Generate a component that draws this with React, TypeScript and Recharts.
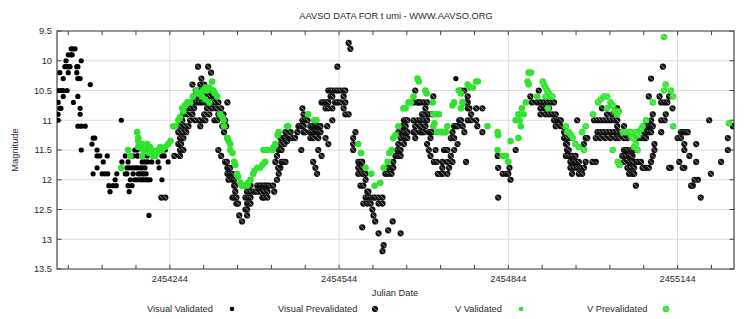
import React from 'react';
import { ScatterChart, Scatter, XAxis, YAxis, CartesianGrid, ReferenceLine, ReferenceArea } from 'recharts';

const FONT = '"Liberation Sans", Arial, Helvetica, sans-serif';
const TEXT = '#2a2a2a';

const title = 'AAVSO DATA FOR t umi - WWW.AAVSO.ORG';
const xLabel = 'Julian Date';
const yLabel = 'Magnitude';
const legendNames = ['Visual Validated', 'Visual Prevalidated', 'V Validated', 'V Prevalidated'];

const xDomain = [2454044, 2455244];
const yDomain = [9.5, 13.5];
const xMajorTicks = [2454244, 2454544, 2454844, 2455144];
const xMinorTicks = [2454064, 2454124, 2454184, 2454244, 2454304, 2454364, 2454424, 2454484, 2454544, 2454604, 2454664, 2454724, 2454784, 2454844, 2454904, 2454964, 2455024, 2455084, 2455144, 2455204];
const yTicks = [9.5, 10, 10.5, 11, 11.5, 12, 12.5, 13, 13.5];

const visualValidated: [number, number][] = [
  [2454046,10.5],[2454051,10.5],[2454055,10.5],[2454062,10.5],[2454046,10.7],[2454049,10.8],[2454051,10.8],[2454046,10.9],[2454046,11.0],
  [2454049,10.2],[2454055,10.3],[2454055,10.6],[2454060,10.0],[2454058,10.1],[2454062,10.1],[2454064,10.1],[2454067,10.1],[2454064,10.2],
  [2454064,9.9],[2454069,9.9],[2454071,9.9],[2454069,9.8],[2454072,9.8],[2454076,9.8],[2454079,10.1],[2454079,10.2],[2454081,10.3],
  [2454085,10.3],[2454087,10.0],[2454081,10.1],[2454081,10.6],[2454085,10.8],[2454085,10.9],[2454073,10.7],[2454081,11.1],[2454087,11.1],
  [2454094,11.1],[2454087,11.5],[2454103,10.4],[2454108,11.3],[2454111,11.3],[2454106,11.4],[2454115,11.5],[2454115,11.6],[2454120,11.6],
  [2454133,11.6],[2454158,11.0],[2454108,11.9],[2454115,11.8],[2454124,11.9],[2454129,11.9],[2454134,11.9],[2454126,11.7],[2454136,12.1],
  [2454143,12.1],[2454149,12.1],[2454138,12.2],[2454147,12.0],[2454150,11.9],[2454158,11.8],[2454159,11.7],[2454165,11.9],[2454168,11.9],
  [2454168,11.8],[2454172,11.8],[2454177,11.8],[2454182,11.8],[2454170,11.7],[2454170,12.1],[2454177,12.1],[2454172,12.2],[2454174,12.0],
  [2454182,12.0],[2454186,12.0],[2454188,11.9],[2454191,11.9],[2454195,11.9],[2454198,11.9],[2454202,11.9],[2454186,11.8],[2454191,11.8],
  [2454195,11.8],[2454200,11.8],[2454191,12.0],[2454195,12.0],[2454198,12.0],[2454202,12.0],[2454205,12.0],[2454209,12.0],[2454195,11.7],
  [2454200,11.7],[2454207,12.6],[2454225,11.8],[2454230,12.0],[2454182,11.5],[2454186,11.6],[2454197,11.6],[2454205,11.7],[2454212,11.7],
  [2454218,11.6],[2454223,11.7],[2454230,11.6],[2454236,11.5],[2454241,11.7],[2454165,11.6],[2454179,11.9],[2454179,11.6],[2454188,11.6],
  [2454204,11.6],[2454214,11.6],[2454234,11.6],[2454186,11.5],[2454200,11.5],[2454225,11.5],[2454751,10.3],
];

const visualPrevalidated: [number, number][] = [
  [2454229,12.3],[2454236,12.3],
  [2454252,11.6],[2454262,11.6],[2454262,11.5],[2454268,11.5],[2454259,11.4],[2454264,11.4],[2454262,11.3],[2454268,11.3],[2454259,11.2],
  [2454266,11.2],[2454273,11.2],[2454262,11.1],[2454270,11.1],[2454277,11.1],[2454266,11.0],[2454280,11.0],[2454268,10.9],[2454275,10.9],
  [2454284,10.9],[2454273,10.8],[2454280,10.8],[2454287,10.8],[2454278,10.7],[2454284,10.7],[2454291,10.7],[2454296,10.7],[2454301,10.7],
  [2454307,10.7],[2454312,10.7],[2454317,10.7],[2454323,10.7],[2454330,10.7],[2454346,10.7],[2454286,10.6],[2454292,10.6],[2454300,10.6],
  [2454307,10.6],[2454314,10.6],[2454321,10.6],[2454326,10.6],[2454290,10.5],[2454296,10.5],[2454303,10.5],[2454312,10.5],[2454319,10.5],
  [2454284,10.4],[2454298,10.4],[2454305,10.4],[2454300,10.3],[2454317,10.2],[2454294,10.1],[2454312,10.1],[2454310,10.8],[2454319,10.8],
  [2454326,10.8],[2454335,10.8],[2454305,10.9],[2454314,10.9],[2454330,10.9],[2454339,10.9],[2454289,11.0],[2454296,11.0],[2454303,11.0],
  [2454307,11.0],[2454323,11.0],[2454328,11.0],[2454342,11.0],[2454298,11.1],[2454337,11.1],[2454344,11.1],[2454340,11.2],[2454346,11.3],
  [2454330,11.5],[2454335,11.6],[2454342,11.7],[2454346,11.8],
  [2454345,11.7],[2454348,11.8],[2454346,11.9],[2454351,11.9],[2454355,11.9],[2454348,12.0],[2454355,12.0],[2454358,12.0],[2454358,12.1],
  [2454360,12.1],[2454360,12.2],[2454355,12.3],[2454358,12.3],[2454362,12.3],[2454362,12.4],[2454365,12.4],[2454367,12.6],[2454372,12.7],
  [2454378,12.5],[2454381,12.5],[2454381,12.4],[2454383,12.4],[2454387,12.4],[2454378,12.3],[2454383,12.3],[2454387,12.3],[2454381,12.2],
  [2454387,12.2],[2454393,12.2],[2454376,12.1],[2454383,12.1],[2454387,12.1],[2454381,12.6],[2454351,11.8],
  [2454399,12.1],[2454403,12.1],[2454406,12.1],[2454410,12.1],[2454413,12.1],[2454417,12.1],[2454420,12.1],[2454427,12.1],[2454403,12.2],
  [2454411,12.2],[2454417,12.2],[2454429,12.2],[2454408,12.3],[2454411,12.3],[2454417,12.3],[2454397,12.2],
  [2454434,12.0],[2454437,11.9],[2454440,11.8],[2454442,11.7],[2454445,11.7],[2454434,11.6],[2454437,11.5],[2454440,11.4],[2454442,11.5],
  [2454445,11.3],[2454447,11.4],[2454449,11.2],[2454452,11.3],[2454440,11.3],[2454431,11.7],[2454436,11.8],
  [2454449,11.3],[2454452,11.35],[2454449,11.7],[2454458,11.2],[2454461,11.3],[2454466,11.3],[2454470,11.2],[2454472,11.1],[2454475,11.1],
  [2454479,11.1],[2454481,11.1],[2454481,11.2],[2454484,11.2],[2454479,11.0],[2454481,10.9],[2454479,10.8],[2454484,11.0],[2454488,11.0],
  [2454493,11.1],[2454497,11.1],[2454502,11.1],[2454505,11.1],[2454507,11.1],[2454511,11.1],[2454493,11.2],[2454497,11.2],[2454502,11.2],
  [2454505,11.2],[2454507,11.2],[2454511,11.2],[2454493,11.3],[2454498,11.3],[2454507,11.3],[2454477,11.5],[2454498,11.7],[2454502,11.8],
  [2454505,11.9],[2454507,11.5],[2454513,11.6],[2454520,11.3],[2454523,11.1],[2454525,11.4],[2454532,11.0],
  [2454513,10.7],[2454516,10.7],[2454520,10.7],[2454523,10.7],[2454525,10.7],[2454537,10.7],[2454541,10.7],[2454546,10.7],[2454529,10.6],
  [2454532,10.6],[2454525,10.5],[2454529,10.5],[2454532,10.5],[2454537,10.5],[2454541,10.5],[2454546,10.5],[2454552,10.5],[2454555,10.5],
  [2454552,10.6],[2454555,10.7],[2454520,10.8],[2454525,10.8],[2454532,10.8],[2454552,10.8],[2454555,10.9],[2454561,10.9],[2454541,10.1],
  [2454561,9.7],[2454564,9.8],
  [2454573,11.2],[2454569,11.3],[2454569,11.4],[2454569,11.5],[2454578,11.7],[2454582,11.7],[2454585,11.7],[2454578,11.8],[2454585,11.8],
  [2454578,11.9],[2454585,11.9],[2454591,11.9],[2454591,12.0],[2454582,12.1],[2454587,12.1],[2454594,12.2],[2454596,12.2],[2454591,12.3],
  [2454596,12.3],[2454600,12.3],[2454605,12.3],[2454608,12.3],[2454614,12.3],[2454621,12.3],[2454587,12.4],[2454594,12.4],[2454600,12.4],
  [2454614,12.4],[2454621,12.4],[2454603,12.5],[2454605,12.6],[2454608,12.7],[2454585,12.8],[2454614,12.9],[2454623,13.1],[2454621,13.2],
  [2454631,12.85],[2454639,12.7],[2454653,12.9],
  [2454626,11.9],[2454631,11.9],[2454637,11.9],[2454631,11.8],[2454637,11.8],[2454640,11.8],[2454640,11.7],[2454644,11.6],[2454649,11.6],
  [2454647,11.5],[2454653,11.5],[2454649,11.4],[2454653,11.3],[2454649,11.2],[2454656,11.2],[2454656,11.1],
  [2454653,11.6],[2454659,11.0],[2454662,11.0],[2454665,11.0],[2454662,11.1],[2454659,11.2],[2454665,11.2],[2454659,11.3],[2454662,11.3],
  [2454665,11.3],[2454659,11.4],[2454676,11.0],[2454683,11.0],[2454688,11.0],[2454694,11.0],[2454700,11.0],[2454679,11.1],[2454688,11.1],
  [2454697,11.1],[2454676,10.7],[2454679,10.5],[2454683,10.7],[2454685,10.7],[2454688,10.7],[2454694,10.7],[2454700,10.7],[2454711,10.6],
  [2454697,10.8],[2454700,10.9],[2454691,10.9],[2454694,10.9],[2454703,10.9],[2454709,10.9],[2454676,11.2],[2454679,11.2],[2454688,11.2],
  [2454691,11.2],[2454694,11.2],[2454703,11.2],[2454706,11.2],[2454709,11.2],[2454679,11.3],[2454706,11.3],[2454742,11.3],[2454748,11.3],
  [2454700,11.4],[2454703,11.5],[2454706,11.6],[2454712,11.7],[2454715,11.5],[2454730,11.5],[2454733,11.5],[2454736,11.5],[2454724,11.9],
  [2454736,11.7],[2454739,11.8],[2454736,11.9],[2454742,11.6],[2454748,11.5],[2454754,11.4],[2454745,11.2],[2454748,11.1],[2454751,11.1],
  [2454754,11.1],[2454757,11.0],[2454760,11.0],[2454763,11.1],[2454766,11.2],[2454772,10.7],[2454772,10.8],[2454775,10.8],[2454778,10.9],
  [2454772,11.0],[2454778,11.0],[2454769,11.7],[2454787,10.8],[2454798,10.8],[2454787,11.0],[2454789,11.1],[2454798,11.2],[2454760,10.5],
  [2454766,10.5],[2454772,10.6],[2454763,10.7],[2454769,10.7],[2454717,11.7],[2454719,11.9],[2454727,11.7],[2454727,11.8],[2454728,11.9],
  [2454745,11.7],
  [2454825,11.6],[2454826,11.8],[2454834,11.9],[2454840,11.9],[2454844,11.9],[2454848,12.0],[2454826,12.3],[2454857,11.5],[2454846,11.8],
  [2454898,10.5],[2454883,10.6],[2454886,10.7],[2454895,10.7],[2454901,10.7],[2454907,10.7],[2454913,10.7],[2454919,10.7],[2454925,10.7],
  [2454901,10.8],[2454907,10.8],[2454910,10.8],[2454916,10.8],[2454910,10.9],[2454916,10.9],[2454922,10.9],[2454928,10.9],[2454901,10.9],
  [2454925,11.0],[2454931,11.0],[2454934,11.0],[2454937,11.0],[2454928,11.1],[2454937,11.1],[2454943,11.2],[2454946,11.2],[2454948,11.2],
  [2454943,11.3],[2454948,11.3],[2454954,11.3],[2454946,11.4],[2454948,11.4],[2454948,11.5],[2454951,11.5],[2454946,11.6],[2454951,11.6],
  [2454957,11.6],[2454963,11.6],[2454954,11.7],[2454960,11.7],[2454963,11.7],[2454969,11.7],[2454954,11.8],[2454960,11.8],[2454966,11.8],
  [2454972,11.8],[2454978,11.8],[2454957,11.9],[2454969,11.9],[2454975,11.9],[2454966,11.0],[2454999,11.7],[2454978,11.4],[2454981,11.3],
  [2454984,11.3],[2454981,11.7],[2454993,11.7],
  [2454996,11.0],[2455002,11.0],[2455007,11.0],[2455013,11.0],[2455019,11.0],[2455025,11.0],[2455031,11.0],[2455037,11.0],
  [2455002,11.2],[2455007,11.2],[2455013,11.2],[2455019,11.2],[2455025,11.2],[2455031,11.2],[2455037,11.2],[2455043,11.2],
  [2454999,11.3],[2455007,11.3],[2455016,11.3],[2455025,11.3],[2455034,11.3],[2455040,11.3],
  [2455010,10.8],[2455019,10.9],[2455028,10.9],[2455034,10.8],[2455037,10.8],[2455037,11.1],[2455049,11.1],[2455055,11.3],[2455049,11.3],
  [2455049,11.5],[2455052,11.5],[2455055,11.5],[2455061,11.5],[2455067,11.5],[2455046,11.6],[2455052,11.6],[2455058,11.6],[2455064,11.6],
  [2455049,11.7],[2455058,11.7],[2455067,11.7],[2455055,11.8],[2455061,11.8],[2455067,11.8],[2455058,11.9],[2455064,11.9],[2455070,12.1],
  [2455118,10.1],[2455097,10.3],[2455093,10.6],[2455112,10.6],[2455115,10.7],[2455121,10.7],[2455126,10.7],[2455129,10.6],[2455135,10.8],
  [2455123,10.9],[2455100,10.9],[2455097,11.0],[2455115,11.0],[2455121,11.0],[2455088,11.1],[2455091,11.1],[2455093,11.1],[2455097,11.1],
  [2455100,11.1],[2455085,11.2],[2455091,11.2],[2455093,11.2],[2455097,11.2],[2455115,11.2],[2455073,11.3],[2455079,11.3],[2455085,11.3],
  [2455088,11.3],[2455150,11.2],[2455153,11.2],[2455156,11.2],[2455159,11.2],[2455162,11.2],[2455144,11.3],[2455150,11.3],[2455156,11.4],
  [2455156,11.5],[2455177,11.4],[2455165,11.6],[2455177,11.7],[2455200,11.0],[2455233,11.3],[2455242,11.1],[2455233,11.5],[2455221,11.7],
  [2455203,11.9],[2455180,12.0],[2455174,12.0],[2455171,12.1],[2455185,12.3],[2455147,11.7],[2455132,11.8],[2455156,11.8],[2455067,11.9],
  [2455061,11.6],[2455064,11.7],[2455073,11.7],[2455079,11.7],[2455085,11.8],[2455088,11.8],[2455093,11.8],[2455097,11.7],[2455100,11.6],
  [2455103,11.5],[2455103,11.4],[2455082,11.8],[2455129,11.8],[2455153,11.8],[2455168,12.1],
];

const vValidated: [number, number][] = [
  [2454158,11.8],[2454170,11.5],[2454174,11.6],[2454188,11.3],[2454186,11.2],[2454188,11.35],[2454191,11.4],[2454188,11.45],[2454195,11.4],
  [2454197,11.5],[2454195,11.6],[2454204,11.4],[2454205,11.45],[2454209,11.45],[2454212,11.5],[2454218,11.6],[2454221,11.55],[2454223,11.5],
  [2454230,11.5],[2454236,11.45],[2454241,11.4],[2454245,11.35],[2454250,11.1],[2454207,11.55],[2454214,11.6],[2454227,11.45],
  [2454254,11.1],[2454259,11.0],[2454262,10.95],[2454266,10.8],[2454268,10.85],[2454271,10.75],[2454275,10.7],[2454280,10.7],[2454285,10.6],
  [2454291,10.5],[2454294,10.55],[2454298,10.55],[2454301,10.6],[2454303,10.5],[2454307,10.45],[2454310,10.5],[2454314,10.45],[2454319,10.35],
  [2454321,10.5],[2454324,10.55],[2454328,10.6],[2454307,10.65],[2454314,10.7],[2454333,10.9],[2454337,10.95],[2454339,11.0],[2454340,11.1],
  [2454346,11.3],[2454348,11.35],[2454351,11.4],[2454351,11.5],[2454355,11.55],[2454358,11.7],[2454360,11.75],[2454363,11.9],[2454365,11.95],
  [2454369,12.05],[2454372,12.1],[2454374,12.1],[2454381,12.1],[2454383,12.05],[2454387,12.0],[2454392,11.9],[2454394,11.85],[2454399,11.8],
  [2454404,11.8],[2454408,11.75],[2454410,11.5],[2454413,11.7],[2454417,11.5],[2454426,11.5],[2454428,11.45],[2454431,11.4],[2454435,11.25],
  [2454437,11.2],[2454452,11.1],[2454454,11.1],
  [2454489,10.9],[2454500,11.0],[2454504,11.0],[2454578,11.4],[2454583,11.55],[2454591,11.8],[2454601,11.9],[2454607,12.1],[2454617,12.05],
  [2454623,11.8],[2454630,11.7],[2454633,11.55],[2454637,11.5],[2454640,11.3],[2454644,11.25],[2454649,11.1],[2454658,10.8],
  [2454662,10.8],[2454667,10.7],[2454671,10.7],[2454676,10.6],[2454683,10.3],[2454685,10.35],[2454697,10.5],[2454699,10.55],[2454710,10.7],
  [2454711,10.9],[2454716,10.9],[2454721,10.9],[2454711,11.1],[2454713,11.05],[2454718,11.2],[2454724,11.2],[2454727,11.2],[2454730,11.2],
  [2454733,11.2],[2454736,11.1],[2454745,10.75],[2454748,10.7],[2454756,10.5],[2454760,10.55],[2454760,10.8],[2454763,10.7],[2454772,10.4],
  [2454775,10.45],[2454781,10.45],[2454787,10.35],[2454790,10.35],[2454807,11.1],[2454825,11.2],[2454826,11.25],[2454825,11.5],[2454834,11.6],
  [2454840,11.6],[2454844,11.7],[2454848,11.35],[2454857,11.0],[2454862,10.9],[2454862,11.3],[2454864,11.0],[2454866,11.1],[2454868,10.8],
  [2454871,10.9],[2454875,10.7],[2454878,10.35],[2454880,10.2],[2454884,10.2],[2454880,10.4],[2454895,10.6],
];

const vPrevalidated: [number, number][] = [
  [2454905,10.35],[2454907,10.4],[2454910,10.45],[2454913,10.5],[2454916,10.55],[2454919,10.6],[2454922,10.6],[2454910,10.6],[2454914,10.8],
  [2454946,11.1],[2454948,11.2],[2454951,11.2],[2454955,11.25],[2454958,11.3],[2454963,11.4],[2454969,11.45],[2454975,11.2],[2454978,11.5],
  [2454981,11.1],[2454994,10.9],[2455003,10.7],[2455008,10.65],[2455013,10.6],[2455019,10.6],[2455025,10.7],[2455029,10.75],[2455019,10.8],
  [2455033,10.85],[2455037,10.9],[2455040,10.85],[2455047,11.2],[2455052,11.2],[2455058,11.2],[2455061,11.25],[2455064,11.25],[2455067,11.3],
  [2455029,11.5],[2455038,11.7],[2455041,11.75],
  [2455070,11.2],[2455074,11.25],[2455064,11.3],[2455061,11.2],[2455067,11.45],[2455073,11.5],[2455070,11.4],[2455082,11.1],[2455088,11.0],
  [2455100,10.7],[2455120,9.6],[2455123,10.4],[2455120,10.5],[2455132,10.5],[2455136,10.6],[2455136,11.1],[2455235,11.05],[2455079,11.15],
];

const toPoints = (arr: [number, number][]) => arr.map(([jd, mag]) => ({ jd, mag }));

const SolidDot = (p: any) => <circle cx={p.cx} cy={p.cy} r={2.6} fill="#000" />;
const HatchDot = (p: any) => (
  <g>
    <circle cx={p.cx} cy={p.cy} r={3.1} fill="#111" />
    <line x1={p.cx - 1.8} y1={p.cy - 1.8} x2={p.cx + 1.8} y2={p.cy + 1.8} stroke="#9a9a9a" strokeWidth={0.9} />
  </g>
);
const GreenDot = (p: any) => <circle cx={p.cx} cy={p.cy} r={3.3} fill="#2fe32f" />;
const GreenHatch = (p: any) => (
  <g>
    <circle cx={p.cx} cy={p.cy} r={3.3} fill="#33e433" />
    <line x1={p.cx - 1.8} y1={p.cy - 1.8} x2={p.cx + 1.8} y2={p.cy + 1.8} stroke="#8ff58f" strokeWidth={0.9} />
  </g>
);

const Y_TICK_DAYS = 8;
const X_TICK_MAG = 0.07;

export default function App() {
  const tickStyle = { fontSize: 9.3, fill: TEXT, fontFamily: FONT };
  return (
    <div style={{ position: 'absolute', left: 0, top: 0, width: 750, height: 319, background: '#fff' }}>
      <ScatterChart width={750} height={319} margin={{ top: 31, right: 16, bottom: 30, left: 10 }}>
        <CartesianGrid vertical={false} stroke="#dcdcdc" />
        <XAxis
          dataKey="jd"
          type="number"
          domain={xDomain}
          allowDataOverflow
          ticks={xMajorTicks}
          tickLine={false}
          axisLine={false}
          tickSize={0}
          tickMargin={6}
          height={20}
          tick={tickStyle}
        />
        <YAxis
          dataKey="mag"
          type="number"
          domain={yDomain}
          allowDataOverflow
          reversed
          ticks={yTicks}
          tickLine={false}
          axisLine={false}
          tickSize={0}
          tickMargin={5}
          width={47}
          tick={tickStyle}
          tickFormatter={(v: number) => String(v)}
        />
        {xMajorTicks.map((t) => (
          <ReferenceLine key={'g' + t} x={t} stroke="#dcdcdc" />
        ))}
        {xMinorTicks.map((t) => (
          <ReferenceLine key={'b' + t} segment={[{ x: t, y: yDomain[1] }, { x: t, y: yDomain[1] - X_TICK_MAG }]} stroke="#444" />
        ))}
        {xMinorTicks.map((t) => (
          <ReferenceLine key={'t' + t} segment={[{ x: t, y: yDomain[0] }, { x: t, y: yDomain[0] + X_TICK_MAG }]} stroke="#444" />
        ))}
        {yTicks.map((m) => (
          <ReferenceLine key={'l' + m} segment={[{ x: xDomain[0], y: m }, { x: xDomain[0] + Y_TICK_DAYS, y: m }]} stroke="#444" />
        ))}
        {yTicks.map((m) => (
          <ReferenceLine key={'r' + m} segment={[{ x: xDomain[1] - Y_TICK_DAYS, y: m }, { x: xDomain[1], y: m }]} stroke="#444" />
        ))}
        <ReferenceArea x1={xDomain[0]} x2={xDomain[1]} y1={yDomain[0]} y2={yDomain[1]} fill="none" fillOpacity={0} stroke="#444" strokeWidth={1.2} />
        <Scatter name={legendNames[0]} data={toPoints(visualValidated)} shape={SolidDot} isAnimationActive={false} />
        <Scatter name={legendNames[1]} data={toPoints(visualPrevalidated)} shape={HatchDot} isAnimationActive={false} />
        <Scatter name={legendNames[2]} data={toPoints(vValidated)} shape={GreenDot} isAnimationActive={false} />
        <Scatter name={legendNames[3]} data={toPoints(vPrevalidated)} shape={GreenHatch} isAnimationActive={false} />
      </ScatterChart>
      <svg width={750} height={319} style={{ position: 'absolute', left: 0, top: 0, pointerEvents: 'none' }}>
        <g fontFamily={FONT} fontSize={9.3} fill={TEXT}>
          <text x={396} y={18.5} textAnchor="middle">{title}</text>
          <text x={395} y={296} textAnchor="middle">{xLabel}</text>
          <text transform="translate(17.5,150) rotate(-90)" textAnchor="middle">{yLabel}</text>
          <text x={147} y={312.3}>{legendNames[0]}</text>
          <text x={278} y={312.3}>{legendNames[1]}</text>
          <text x={455} y={312.3}>{legendNames[2]}</text>
          <text x={587} y={312.3}>{legendNames[3]}</text>
        </g>
        <circle cx={232} cy={309} r={2.3} fill="#000" />
        <HatchDot cx={375} cy={309} />
        <circle cx={521} cy={309} r={2.3} fill="#2fe32f" />
        <GreenHatch cx={666} cy={309} />
      </svg>
    </div>
  );
}
